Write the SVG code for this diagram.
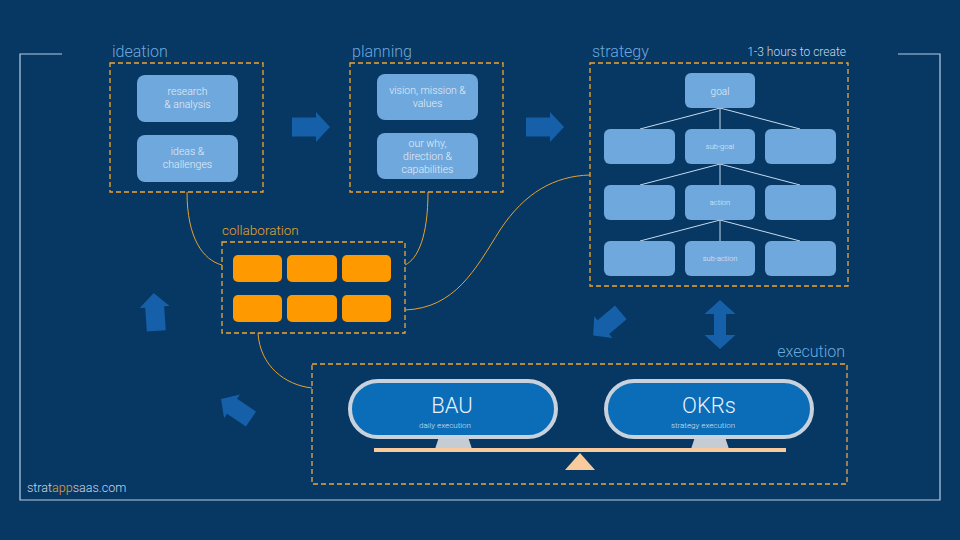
<svg xmlns="http://www.w3.org/2000/svg" width="960" height="540" viewBox="0 0 960 540">
<defs>
<style>
.bg{fill:#073763}
.frame{fill:none;stroke:#b8cde3;stroke-width:1.2}
.dash{fill:none;stroke:#f0a636;stroke-width:1.3;stroke-dasharray:5 3}
.lbl{font-family:Roboto,"Liberation Sans",sans-serif;font-weight:300;font-size:16px;fill:#6fa8dc}
.box{fill:#6fa8dc}
.bt{font-family:Roboto,"Liberation Sans",sans-serif;font-weight:300;font-size:10.5px;fill:#e3eef9;text-anchor:middle}
.st{font-family:Roboto,"Liberation Sans",sans-serif;font-weight:300;font-size:7.5px;fill:#e3eef9;text-anchor:middle}
.tree{fill:none;stroke:#c4dbf0;stroke-width:1}
.ob{fill:#ff9900}
.conn{fill:none;stroke:#e6a232;stroke-width:1}
.arr{fill:#1560a8}
.pill{fill:#0b6cb7;stroke:#c9d2dc;stroke-width:4}
.stand{fill:#c6ccd3}
.peach{fill:#f9cb9c}
.big{font-family:Roboto,"Liberation Sans",sans-serif;font-weight:300;font-size:22px;fill:#e8f1fb;text-anchor:middle}
.small{font-family:Roboto,"Liberation Sans",sans-serif;font-weight:300;font-size:8px;fill:#d6e6f5;text-anchor:middle}
</style>
<polygon id="rarrow" points="-19,-9.5 5,-9.5 5,-15 19,0 5,15 5,9.5 -19,9.5"/>
</defs>
<rect class="bg" x="0" y="0" width="960" height="540"/>
<path class="frame" d="M62,54 H20 V500 H940 V54 H898"/>

<g id="connectors">
<path class="conn" d="M187,192 C187,238 203,260 222,265"/>
<path class="conn" d="M428,192 C428,236 418,259 405,265"/>
<path class="conn" d="M405,310 C455,308 475,270 500,230 C525,192 555,176 590,175"/>
<path class="conn" d="M258,333 C260,366 285,385 312,388"/>
</g>

<g id="ideation">
<text class="lbl" x="112" y="57">ideation</text>
<rect class="dash" x="110" y="63" width="153" height="129"/>
<rect class="box" x="137" y="75" width="101" height="47" rx="8"/>
<text class="bt" x="187.5" y="95">research</text>
<text class="bt" x="187.5" y="108">&amp; analysis</text>
<rect class="box" x="137" y="135" width="101" height="47" rx="8"/>
<text class="bt" x="187.5" y="155">ideas &amp;</text>
<text class="bt" x="187.5" y="168">challenges</text>
</g>

<g id="planning">
<text class="lbl" x="352" y="57">planning</text>
<rect class="dash" x="350" y="63" width="153" height="129"/>
<rect class="box" x="377" y="74" width="101" height="46" rx="8"/>
<text class="bt" x="427.5" y="94">vision, mission &amp;</text>
<text class="bt" x="427.5" y="107">values</text>
<rect class="box" x="377" y="133" width="101" height="46" rx="8"/>
<text class="bt" x="427.5" y="147">our why,</text>
<text class="bt" x="427.5" y="160">direction &amp;</text>
<text class="bt" x="427.5" y="173">capabilities</text>
</g>

<g id="strategy">
<text class="lbl" x="592" y="57">strategy</text>
<text x="846" y="56" style="font-family:Roboto,'Liberation Sans',sans-serif;font-weight:300;font-size:12px;fill:#c8d8ea;text-anchor:end">1-3 hours to create</text>
<rect class="dash" x="590" y="63" width="258" height="223"/>
<path class="tree" d="M720,108 L640,129 M720,108 V129 M720,108 L800,129 M720,164 L640,185 M720,164 V185 M720,164 L800,185 M720,220 L640,241 M720,220 V241 M720,220 L800,241"/>
<rect class="box" x="685" y="73" width="70" height="35" rx="6"/>
<text x="720" y="95" style="font-family:Roboto,'Liberation Sans',sans-serif;font-weight:300;font-size:10px;fill:#e3eef9;text-anchor:middle">goal</text>
<rect class="box" x="604" y="129" width="71" height="35" rx="6"/>
<rect class="box" x="685" y="129" width="70" height="35" rx="6"/>
<rect class="box" x="765" y="129" width="71" height="35" rx="6"/>
<text class="st" x="720" y="149">sub-goal</text>
<rect class="box" x="604" y="185" width="71" height="35" rx="6"/>
<rect class="box" x="685" y="185" width="70" height="35" rx="6"/>
<rect class="box" x="765" y="185" width="71" height="35" rx="6"/>
<text class="st" x="720" y="205">action</text>
<rect class="box" x="604" y="241" width="71" height="35" rx="6"/>
<rect class="box" x="685" y="241" width="70" height="35" rx="6"/>
<rect class="box" x="765" y="241" width="71" height="35" rx="6"/>
<text class="st" x="720" y="261">sub-action</text>
</g>

<g id="collaboration">
<text x="222" y="235" style="font-family:Roboto,'Liberation Sans',sans-serif;font-weight:300;font-size:13.5px;fill:#e6a232">collaboration</text>
<rect class="dash" x="222" y="242" width="183" height="91"/>
<rect class="ob" x="233" y="255" width="49" height="27" rx="5"/>
<rect class="ob" x="287" y="255" width="50" height="27" rx="5"/>
<rect class="ob" x="342" y="255" width="49" height="27" rx="5"/>
<rect class="ob" x="233" y="295" width="49" height="27" rx="5"/>
<rect class="ob" x="287" y="295" width="50" height="27" rx="5"/>
<rect class="ob" x="342" y="295" width="49" height="27" rx="5"/>
</g>

<g id="execution">
<text class="lbl" x="845" y="357" text-anchor="end">execution</text>
<rect class="dash" x="312" y="364" width="535" height="120"/>
<polygon class="stand" points="439,437 468,437 472,449 435,449"/>
<polygon class="stand" points="695,437 725,437 729,449 691,449"/>
<rect class="pill" x="350" y="381" width="206" height="56" rx="28"/>
<text class="big" x="452" y="413">BAU</text>
<text class="small" x="445" y="428">daily execution</text>
<rect class="pill" x="606" y="381" width="206" height="56" rx="28"/>
<text class="big" x="709" y="413">OKRs</text>
<text class="small" x="703" y="428">strategy execution</text>
<rect class="peach" x="374" y="448" width="412" height="4"/>
<polygon class="peach" points="580,453 595,470 565,470"/>
</g>

<g id="arrows">
<use href="#rarrow" class="arr" transform="translate(311,127)"/>
<use href="#rarrow" class="arr" transform="translate(545,127)"/>
<use href="#rarrow" class="arr" transform="translate(607,324) rotate(140) scale(0.95)"/>
<polygon class="arr" points="720,300 735.5,314 726,314 726,335 735.5,335 720,349 704.5,335 714,335 714,314 704.5,314"/>
<use href="#rarrow" class="arr" transform="translate(155,312) rotate(-94)"/>
<use href="#rarrow" class="arr" transform="translate(236,409) rotate(-146) scale(0.95)"/>
</g>

<text x="27" y="492" style="font-family:Roboto,'Liberation Sans',sans-serif;font-weight:300;font-size:12.5px;fill:#c8d8ea">strat<tspan fill="#e6a232">app</tspan>saas.com</text>
</svg>
